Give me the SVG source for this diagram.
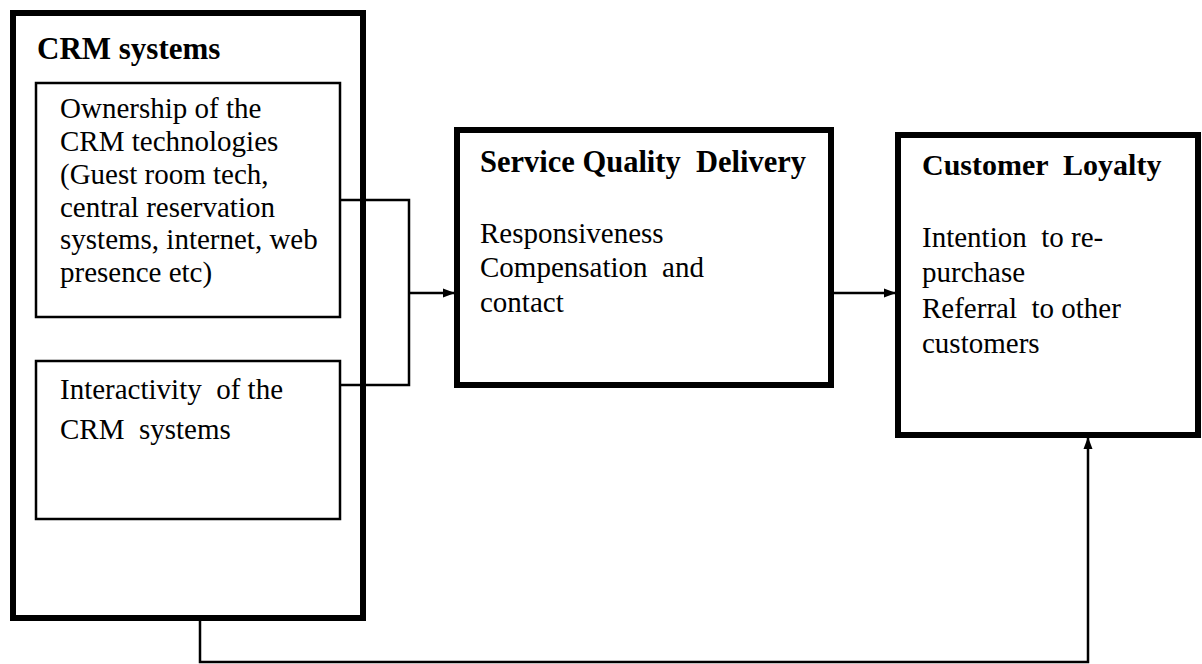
<svg xmlns="http://www.w3.org/2000/svg" width="1202" height="664" viewBox="0 0 1202 664">
<style>
.box{fill:none;stroke:#000;stroke-width:6}
.inner{fill:none;stroke:#000;stroke-width:2.5}
.c{fill:none;stroke:#000;stroke-width:2.5}
.pre{white-space:pre}
</style>
<defs>
<marker id="ah" markerWidth="12" markerHeight="12" refX="11" refY="6" orient="auto" markerUnits="userSpaceOnUse">
<path d="M0,1.5 L12,6 L0,10.5 Z" fill="#000"/>
</marker>
</defs>
<rect width="1202" height="664" fill="#fff"/>
<g id="crm-systems">
<rect class="box" x="13" y="13" width="350" height="605"/>
<text x="37" y="59" font-family="Liberation Serif" font-size="31" font-weight="bold">CRM systems</text>
</g>
<g id="ownership">
<rect class="inner" x="36" y="83" width="304" height="234"/>
<text x="60" y="118" font-family="Liberation Serif" font-size="29">Ownership of the</text>
<text x="60" y="151" font-family="Liberation Serif" font-size="29">CRM technologies</text>
<text x="60" y="184" font-family="Liberation Serif" font-size="29">(Guest room tech,</text>
<text x="60" y="217" font-family="Liberation Serif" font-size="29">central reservation</text>
<text x="60" y="249" font-family="Liberation Serif" font-size="29">systems, internet, web</text>
<text x="60" y="282" font-family="Liberation Serif" font-size="29">presence etc)</text>
</g>
<g id="interactivity">
<rect class="inner" x="36" y="361" width="304" height="158"/>
<text class="pre" x="60" y="399" font-family="Liberation Serif" font-size="29">Interactivity  of the</text>
<text class="pre" x="60" y="439" font-family="Liberation Serif" font-size="29">CRM  systems</text>
</g>
<g id="service-quality">
<rect class="box" x="457" y="130" width="374" height="255"/>
<text class="pre" x="480" y="172" font-family="Liberation Serif" font-size="30.5" font-weight="bold">Service Quality  Delivery</text>
<text x="480" y="243" font-family="Liberation Serif" font-size="29">Responsiveness</text>
<text class="pre" x="480" y="277" font-family="Liberation Serif" font-size="29">Compensation  and</text>
<text x="480" y="312" font-family="Liberation Serif" font-size="29">contact</text>
</g>
<g id="customer-loyalty">
<rect class="box" x="898" y="135" width="300" height="300"/>
<text class="pre" x="922" y="175" font-family="Liberation Serif" font-size="30" font-weight="bold">Customer  Loyalty</text>
<text class="pre" x="922" y="247" font-family="Liberation Serif" font-size="29">Intention  to re-</text>
<text x="922" y="282" font-family="Liberation Serif" font-size="29">purchase</text>
<text class="pre" x="922" y="318" font-family="Liberation Serif" font-size="29">Referral  to other</text>
<text x="922" y="353" font-family="Liberation Serif" font-size="29">customers</text>
</g>
<g id="connectors">
<polyline class="c" points="340,200 409,200 409,385 340,385"/>
<line class="c" x1="409" y1="293" x2="454" y2="293" marker-end="url(#ah)"/>
<line class="c" x1="834" y1="293" x2="895" y2="293" marker-end="url(#ah)"/>
<polyline class="c" points="200,621 200,662 1088,662 1088,438" marker-end="url(#ah)"/>
</g>
</svg>
